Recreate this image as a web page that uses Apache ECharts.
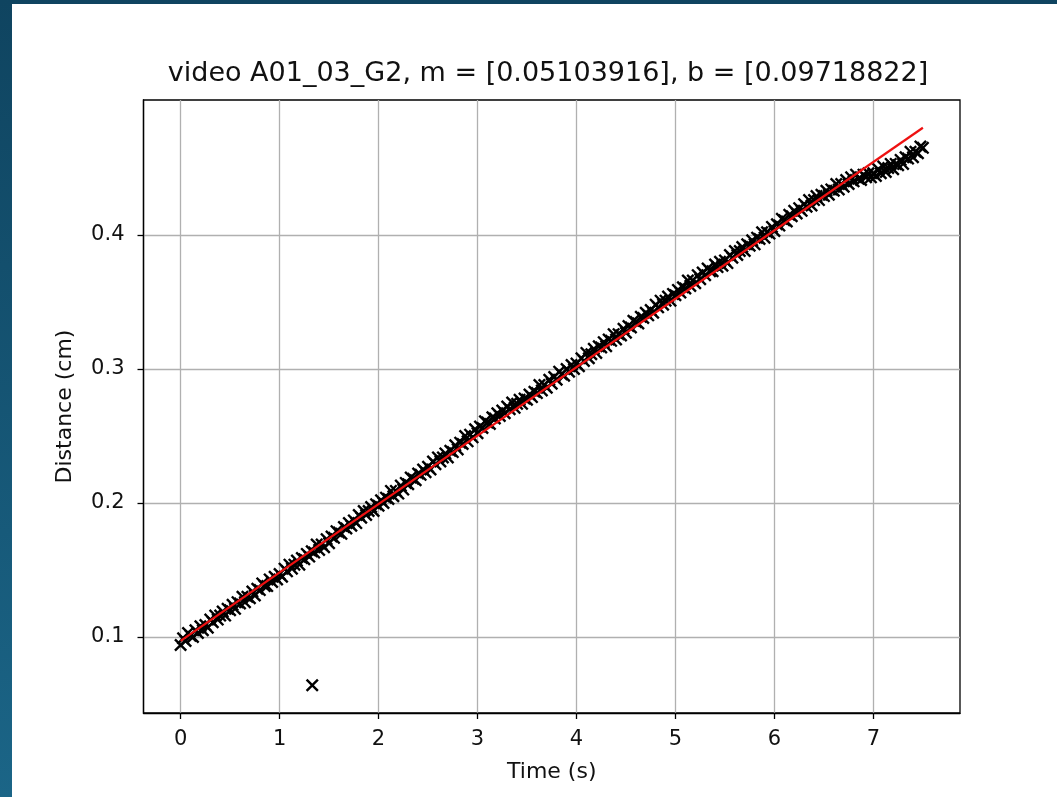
<!DOCTYPE html>
<html>
<head>
<meta charset="utf-8">
<title>video A01_03_G2</title>
<script src="https://cdn.jsdelivr.net/npm/echarts@6/dist/echarts.min.js"></script>
<style>
  html, body {
    margin: 0;
    width: 1057px;
    height: 797px;
    overflow: hidden;
    background: linear-gradient(to bottom, #0f4460, #1b6587);
  }
  #chart {
    position: absolute;
    left: 12px;
    top: 4px;
    width: 1045px;
    height: 793px;
    background: #ffffff;
  }
</style>
</head>
<body>
<div id="chart"></div>
<script>
// tracked distance of the sample over time (one row per 0.25 s)
const samples = [
  [0.000, 0.094], [0.025, 0.099], [0.050, 0.097], [0.075, 0.103], [0.100, 0.101], [0.125, 0.100], [0.150, 0.105], [0.175, 0.103], [0.200, 0.108], [0.225, 0.105],
  [0.250, 0.109], [0.275, 0.107], [0.300, 0.113], [0.325, 0.111], [0.350, 0.116], [0.375, 0.113], [0.400, 0.116], [0.425, 0.119], [0.450, 0.116], [0.475, 0.121],
  [0.500, 0.120], [0.525, 0.124], [0.550, 0.121], [0.575, 0.126], [0.600, 0.125], [0.625, 0.130], [0.650, 0.126], [0.675, 0.130], [0.700, 0.129], [0.725, 0.134],
  [0.750, 0.131], [0.775, 0.136], [0.800, 0.135], [0.825, 0.140], [0.850, 0.138], [0.875, 0.138], [0.900, 0.143], [0.925, 0.141], [0.950, 0.145], [0.975, 0.143],
  [1.000, 0.147], [1.025, 0.145], [1.050, 0.151], [1.075, 0.149], [1.100, 0.154], [1.125, 0.151], [1.150, 0.154], [1.175, 0.157], [1.200, 0.154], [1.225, 0.159],
  [1.250, 0.158], [1.275, 0.162], [1.300, 0.160], [1.325, 0.164], [1.350, 0.163], [1.375, 0.169], [1.400, 0.165], [1.425, 0.169], [1.450, 0.167], [1.475, 0.173],
  [1.500, 0.170], [1.525, 0.175], [1.550, 0.174], [1.575, 0.179], [1.600, 0.178], [1.625, 0.177], [1.650, 0.182], [1.675, 0.181], [1.700, 0.185], [1.725, 0.183],
  [1.750, 0.187], [1.775, 0.185], [1.800, 0.191], [1.825, 0.189], [1.850, 0.194], [1.875, 0.191], [1.900, 0.194], [1.925, 0.197], [1.950, 0.194], [1.975, 0.199],
  [2.000, 0.198], [2.025, 0.202], [2.050, 0.200], [2.075, 0.204], [2.100, 0.203], [2.125, 0.209], [2.150, 0.205], [2.175, 0.209], [2.200, 0.207], [2.225, 0.213],
  [2.250, 0.210], [2.275, 0.215], [2.300, 0.214], [2.325, 0.219], [2.350, 0.218], [2.375, 0.217], [2.400, 0.222], [2.425, 0.221], [2.450, 0.225], [2.475, 0.223],
  [2.500, 0.227], [2.525, 0.225], [2.550, 0.231], [2.575, 0.229], [2.600, 0.234], [2.625, 0.231], [2.650, 0.234], [2.675, 0.237], [2.700, 0.234], [2.725, 0.239],
  [2.750, 0.238], [2.775, 0.243], [2.800, 0.240], [2.825, 0.245], [2.850, 0.244], [2.875, 0.250], [2.900, 0.246], [2.925, 0.251], [2.950, 0.249], [2.975, 0.255],
  [3.000, 0.252], [3.025, 0.257], [3.050, 0.256], [3.075, 0.261], [3.100, 0.260], [3.125, 0.259], [3.150, 0.264], [3.175, 0.263], [3.200, 0.267], [3.225, 0.265],
  [3.250, 0.269], [3.275, 0.267], [3.300, 0.272], [3.325, 0.270], [3.350, 0.275], [3.375, 0.271], [3.400, 0.274], [3.425, 0.277], [3.450, 0.274], [3.475, 0.278],
  [3.500, 0.277], [3.525, 0.281], [3.550, 0.279], [3.575, 0.283], [3.600, 0.282], [3.625, 0.288], [3.650, 0.284], [3.675, 0.288], [3.700, 0.286], [3.725, 0.292],
  [3.750, 0.289], [3.775, 0.294], [3.800, 0.292], [3.825, 0.298], [3.850, 0.296], [3.875, 0.295], [3.900, 0.300], [3.925, 0.298], [3.950, 0.303], [3.975, 0.300],
  [4.000, 0.304], [4.025, 0.302], [4.050, 0.308], [4.075, 0.306], [4.100, 0.312], [4.125, 0.308], [4.150, 0.311], [4.175, 0.315], [4.200, 0.312], [4.225, 0.317],
  [4.250, 0.316], [4.275, 0.320], [4.300, 0.317], [4.325, 0.322], [4.350, 0.321], [4.375, 0.326], [4.400, 0.322], [4.425, 0.326], [4.450, 0.325], [4.475, 0.330],
  [4.500, 0.327], [4.525, 0.332], [4.550, 0.331], [4.575, 0.336], [4.600, 0.335], [4.625, 0.334], [4.650, 0.339], [4.675, 0.338], [4.700, 0.342], [4.725, 0.340],
  [4.750, 0.344], [4.775, 0.342], [4.800, 0.348], [4.825, 0.346], [4.850, 0.351], [4.875, 0.348], [4.900, 0.351], [4.925, 0.354], [4.950, 0.351], [4.975, 0.356],
  [5.000, 0.355], [5.025, 0.359], [5.050, 0.357], [5.075, 0.361], [5.100, 0.360], [5.125, 0.366], [5.150, 0.362], [5.175, 0.366], [5.200, 0.364], [5.225, 0.370],
  [5.250, 0.367], [5.275, 0.372], [5.300, 0.370], [5.325, 0.375], [5.350, 0.373], [5.375, 0.373], [5.400, 0.378], [5.425, 0.376], [5.450, 0.380], [5.475, 0.377],
  [5.500, 0.381], [5.525, 0.379], [5.550, 0.385], [5.575, 0.383], [5.600, 0.388], [5.625, 0.385], [5.650, 0.388], [5.675, 0.391], [5.700, 0.388], [5.725, 0.393],
  [5.750, 0.392], [5.775, 0.396], [5.800, 0.393], [5.825, 0.398], [5.850, 0.397], [5.875, 0.402], [5.900, 0.398], [5.925, 0.402], [5.950, 0.401], [5.975, 0.406],
  [6.000, 0.403], [6.025, 0.408], [6.050, 0.407], [6.075, 0.412], [6.100, 0.411], [6.125, 0.410], [6.150, 0.415], [6.175, 0.414], [6.200, 0.418], [6.225, 0.416],
  [6.250, 0.420], [6.275, 0.418], [6.300, 0.423], [6.325, 0.421], [6.350, 0.426], [6.375, 0.422], [6.400, 0.426], [6.425, 0.429], [6.450, 0.426], [6.475, 0.430],
  [6.500, 0.429], [6.525, 0.433], [6.550, 0.430], [6.575, 0.434], [6.600, 0.433], [6.625, 0.438], [6.650, 0.434], [6.675, 0.438], [6.700, 0.436], [6.725, 0.441],
  [6.750, 0.438], [6.775, 0.443], [6.800, 0.440], [6.825, 0.445], [6.850, 0.442], [6.875, 0.441], [6.900, 0.445], [6.925, 0.443], [6.950, 0.446], [6.975, 0.443],
  [7.000, 0.446], [7.025, 0.444], [7.050, 0.449], [7.075, 0.446], [7.100, 0.451], [7.125, 0.447], [7.150, 0.450], [7.175, 0.453], [7.200, 0.449], [7.225, 0.453],
  [7.250, 0.452], [7.275, 0.456], [7.300, 0.453], [7.325, 0.458], [7.350, 0.457], [7.375, 0.462], [7.400, 0.458], [7.425, 0.462], [7.450, 0.461], [7.475, 0.466],
  [7.500, 0.465],
  [1.330, 0.064]
];

// least squares fit, ends of the drawn segment
const fitLine = [[0, 0.09718822], [7.5, 0.47998192]];

const xTicks = [0, 1, 2, 3, 4, 5, 6, 7];
const yTicks = [0.1, 0.2, 0.3, 0.4];

const FONT = "DejaVu Sans";
const CROSS = "path://M0,1.3L1.3,0L5,3.7L8.7,0L10,1.3L6.3,5L10,8.7L8.7,10L5,6.3L1.3,10L0,8.7L3.7,5Z";

const axisCommon = {
  axisLine: {
    show: true,
    onZero: false,
    lineStyle: { color: "#000", width: 1.3 }
  },
  axisTick: {
    show: true,
    inside: false,
    length: 6,
    lineStyle: { color: "#000", width: 1.3 }
  },
  axisLabel: {
    color: "#111",
    fontFamily: FONT,
    fontSize: 21
  },
  splitLine: {
    show: true,
    lineStyle: { color: "#b0b0b0", width: 1.3 }
  },
  nameLocation: "middle",
  nameTextStyle: {
    color: "#111",
    fontFamily: FONT,
    fontSize: 22
  }
};

const chart = echarts.init(document.getElementById("chart"), null, { renderer: "canvas" });

chart.setOption({
  animation: false,
  backgroundColor: "#ffffff",
  title: {
    text: "video A01_03_G2, m = [0.05103916], b = [0.09718822]",
    left: 531,
    top: 51,
    textAlign: "center",
    textStyle: {
      color: "#111",
      fontFamily: FONT,
      fontSize: 27,
      fontWeight: "normal"
    }
  },
  grid: {
    left: 131.5,
    top: 96,
    right: 97,
    bottom: 84,
    show: true,
    borderColor: "#000",
    borderWidth: 1.3,
    backgroundColor: "transparent",
    outerBoundsMode: "none"
  },
  xAxis: Object.assign({}, axisCommon, {
    type: "value",
    name: "Time (s)",
    nameGap: 48,
    min: -0.375,
    max: 7.875,
    axisTick: Object.assign({}, axisCommon.axisTick, { customValues: xTicks }),
    axisLabel: Object.assign({}, axisCommon.axisLabel, { customValues: xTicks, margin: 16 })
  }),
  yAxis: Object.assign({}, axisCommon, {
    type: "value",
    name: "Distance (cm)",
    nameGap: 67,
    min: 0.0433,
    max: 0.5007,
    axisTick: Object.assign({}, axisCommon.axisTick, { customValues: yTicks }),
    axisLabel: Object.assign({}, axisCommon.axisLabel, {
      customValues: yTicks,
      margin: 19,
      formatter: function (v) {
        return v.toFixed(1);
      }
    })
  }),
  series: [
    {
      type: "scatter",
      data: samples,
      symbol: CROSS,
      symbolSize: 13,
      itemStyle: {
        color: "#000",
        opacity: 1
      },
      z: 2
    },
    {
      type: "line",
      data: fitLine,
      showSymbol: false,
      symbol: "none",
      lineStyle: {
        color: "#ee1111",
        width: 2.2
      },
      z: 3
    }
  ]
});
</script>
</body>
</html>
